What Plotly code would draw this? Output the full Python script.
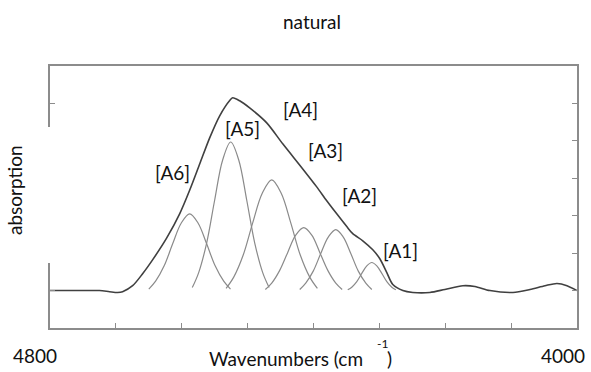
import plotly.graph_objects as go

# ---- data ----
composite_x = [4800, 4755.2, 4724.8, 4709.6, 4697.4, 4689.8, 4674.6, 4659.4, 4644.3, 4623.0,
               4603.2, 4588.0, 4572.8, 4557.6, 4542.4, 4527.2, 4522.7, 4512.1, 4496.9, 4471.0,
               4446.7, 4416.3, 4395.1, 4379.9, 4364.7, 4349.5, 4340.4, 4325.2, 4310.0, 4299.3,
               4288.7, 4279.6, 4264.4, 4249.2, 4223.4, 4200.6, 4173.2, 4155.0, 4132.2, 4097.2,
               4071.4, 4048.6, 4030.4, 4015.2, 4000]
composite_y = [0, 0, 0, -0.03, -0.05, -0.03, 0.13, 0.45, 0.82, 1.40,
               2.05, 2.68, 3.38, 4.08, 4.67, 5.08, 5.15, 5.07, 4.88, 4.48,
               3.92, 3.25, 2.77, 2.40, 2.05, 1.71, 1.52, 1.33, 1.09, 0.85,
               0.48, 0.16, 0.0, -0.05, -0.05, 0.03, 0.13, 0.11, 0.0, -0.05,
               0.03, 0.13, 0.19, 0.13, 0.0]

a6_x = [4650.0, 4639.7, 4626.7, 4613.8, 4600.9, 4588.0, 4575.1, 4562.2, 4549.3, 4536.3, 4526.0]
a6_y = [0.04, 0.25, 0.66, 1.25, 1.80, 2.05, 1.80, 1.25, 0.66, 0.25, 0.04]
a5_x = [4584.0, 4574.3, 4562.2, 4550.0, 4537.9, 4525.7, 4513.5, 4501.4, 4489.2, 4477.1, 4467.4]
a5_y = [0.08, 0.48, 1.27, 2.42, 3.49, 3.97, 3.49, 2.42, 1.27, 0.48, 0.08]
a4_x = [4532.7, 4521.1, 4506.7, 4492.3, 4477.8, 4463.4, 4449.0, 4434.5, 4420.1, 4405.7, 4394.1]
a4_y = [0.06, 0.36, 0.95, 1.81, 2.60, 2.96, 2.60, 1.81, 0.95, 0.36, 0.06]
a3_x = [4473.1, 4463.4, 4451.3, 4439.1, 4427.0, 4414.8, 4402.6, 4390.5, 4378.3, 4366.2, 4356.5]
a3_y = [0.03, 0.20, 0.54, 1.02, 1.48, 1.68, 1.48, 1.02, 0.54, 0.20, 0.03]
a2_x = [4420.9, 4411.8, 4400.4, 4389.0, 4377.6, 4366.2, 4354.8, 4343.4, 4332.0, 4320.6, 4311.5]
a2_y = [0.03, 0.20, 0.52, 0.99, 1.43, 1.63, 1.43, 0.99, 0.52, 0.20, 0.03]
a1_x = [4348.0, 4341.9, 4334.3, 4326.7, 4319.1, 4311.5, 4303.9, 4296.3, 4288.7, 4281.1, 4275.0]
a1_y = [0.02, 0.09, 0.24, 0.46, 0.66, 0.75, 0.66, 0.46, 0.24, 0.09, 0.02]

band_labels = ["[A6]", "[A5]", "[A4]", "[A3]", "[A2]", "[A1]"]
label_x = [4613.9, 4507.5, 4419.4, 4381.4, 4329.7, 4267.4]
label_y = [3.15, 4.32, 4.85, 3.73, 2.53, 1.07]

x_ticks = [4700, 4600, 4500, 4400, 4300, 4200, 4100]
y_ticks = [0, 1, 2, 3, 4, 5]

FONT = "Lato"
FS = 19
comp_color = "#8a8a8a"
axis_color = "#8c8c8c"
text_color = "#111111"

fig = go.Figure()
for xs, ys in [(a6_x, a6_y), (a5_x, a5_y), (a4_x, a4_y), (a3_x, a3_y), (a2_x, a2_y), (a1_x, a1_y)]:
    fig.add_trace(go.Scatter(x=xs, y=ys, mode="lines",
                             line=dict(color=comp_color, width=1.2, shape="spline"),
                             showlegend=False, hoverinfo="skip"))
fig.add_trace(go.Scatter(x=composite_x, y=composite_y, mode="lines",
                         line=dict(color="#404040", width=1.6, shape="spline", smoothing=0.8),
                         showlegend=False, hoverinfo="skip"))

for t, x, y in zip(band_labels, label_x, label_y):
    fig.add_annotation(x=x, y=y, text=t, showarrow=False, xanchor="center", yanchor="middle",
                       font=dict(family=FONT, size=FS, color=text_color))

L, R, T, B = 50, 14, 66, 44
W, H = 591, 372
pw, ph = W - L - R, H - T - B

def px(xp):
    return (xp - L) / pw

def py(yp):
    return (H - B - yp) / ph

ann_font = dict(family=FONT, size=FS, color=text_color)

def text_at(xp, yp, text, xanchor="center", font=ann_font, angle=0):
    fig.add_annotation(xref="paper", yref="paper", x=px(xp), y=py(yp), text=text,
                       xanchor=xanchor, yanchor="middle", textangle=angle,
                       showarrow=False, font=font)

text_at(312, 21, "natural")
text_at(35, 355, "4800")
text_at(563, 355, "4000")
text_at(365, 358, "Wavenumbers (cm", xanchor="right")
text_at(382, 343, "-1", font=dict(family=FONT, size=12, color=text_color))
text_at(389.5, 358, ")")

# white label box over left axis
fig.add_shape(type="rect", xref="paper", yref="paper", x0=px(0), x1=px(56), y0=py(263), y1=py(127),
              fillcolor="white", line=dict(width=0), layer="above")
text_at(14, 190, "absorption", angle=-90)

fig.update_xaxes(range=[4800, 4000], showgrid=False, zeroline=False,
                 showline=True, linecolor=axis_color, linewidth=1.5, mirror=True,
                 ticks="inside", ticklen=5, tickcolor=axis_color, tickwidth=1,
                 tickvals=x_ticks, showticklabels=False)
fig.update_yaxes(range=[-1, 6], showgrid=False, zeroline=False,
                 showline=True, linecolor=axis_color, linewidth=1.5, mirror="ticks",
                 ticks="inside", ticklen=5, tickcolor=axis_color, tickwidth=1,
                 tickvals=y_ticks, showticklabels=False)

fig.update_layout(width=W, height=H, margin=dict(l=L, r=R, t=T, b=B),
                  paper_bgcolor="white", plot_bgcolor="white",
                  font=dict(family=FONT))
fig.write_html("out.html")
